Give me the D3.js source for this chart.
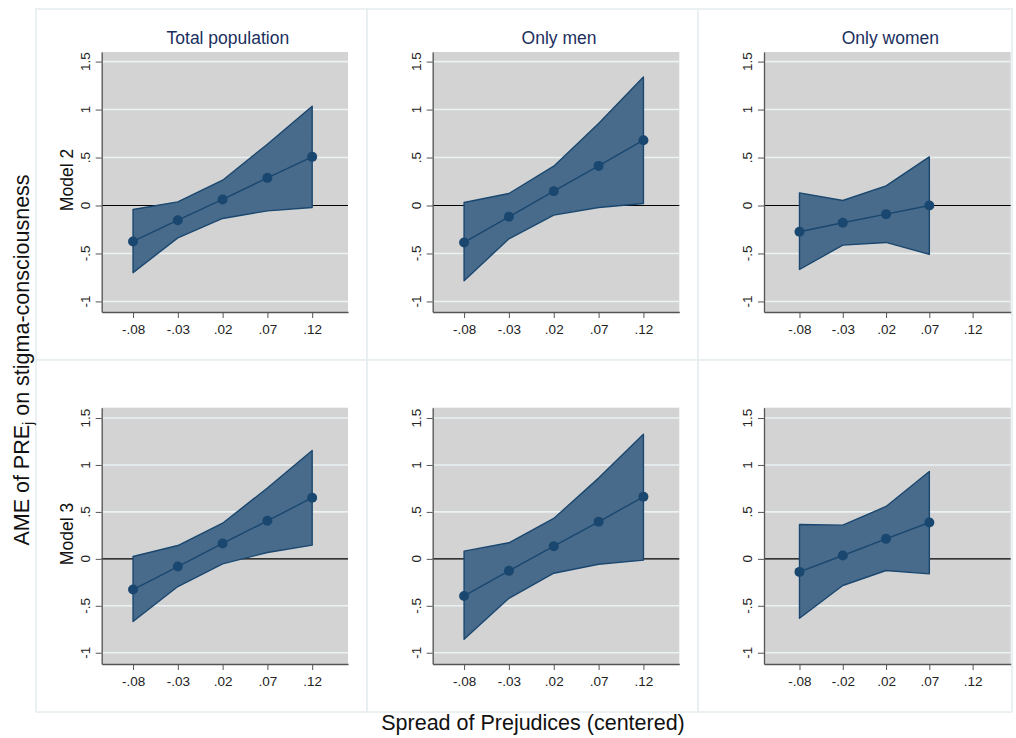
<!DOCTYPE html>
<html>
<head>
<meta charset="utf-8">
<script src="https://cdn.jsdelivr.net/npm/d3@7"></script>
<style>
body { margin: 0; background: #ffffff; }
svg { display: block; }
</style>
</head>
<body>
<div id="chart"><svg id="svg1" width="1016" height="738"></svg></div>
<script>
// tick labels per column (women model 3 has -.02 instead of -.03)
var xTickLabelsM2 = ["-.08", "-.03", ".02", ".07", ".12"];
var xTickLabelsM3W = ["-.08", "-.02", ".02", ".07", ".12"];
var yTickVals = [-1, -0.5, 0, 0.5, 1, 1.5];
var yTickLabels = ["-1", "-.5", "0", ".5", "1", "1.5"];

var colTitles = ["Total population", "Only men", "Only women"];
var rowTitles = ["Model 2", "Model 3"];

// Model 2
var m2TotalAme = [-0.375, -0.153, 0.063, 0.288, 0.507];
var m2TotalUp  = [-0.042, 0.038, 0.264, 0.639, 1.035];
var m2TotalLo  = [-0.700, -0.337, -0.135, -0.056, -0.021];

var m2MenAme = [-0.385, -0.118, 0.149, 0.413, 0.681];
var m2MenUp  = [0.031, 0.125, 0.410, 0.854, 1.340];
var m2MenLo  = [-0.785, -0.347, -0.100, -0.021, 0.021];

var m2WomenAme = [-0.274, -0.180, -0.090, 0.000];
var m2WomenUp  = [0.132, 0.052, 0.205, 0.507];
var m2WomenLo  = [-0.667, -0.413, -0.385, -0.510];

// Model 3
var m3TotalAme = [-0.327, -0.082, 0.164, 0.405, 0.651];
var m3TotalUp  = [0.025, 0.142, 0.380, 0.754, 1.155];
var m3TotalLo  = [-0.668, -0.295, -0.053, 0.068, 0.146];

var m3MenAme = [-0.395, -0.128, 0.135, 0.395, 0.661];
var m3MenUp  = [0.082, 0.171, 0.430, 0.860, 1.326];
var m3MenLo  = [-0.857, -0.420, -0.153, -0.057, -0.014];

var m3WomenAme = [-0.139, 0.036, 0.213, 0.387];
var m3WomenUp  = [0.366, 0.359, 0.558, 0.931];
var m3WomenLo  = [-0.633, -0.284, -0.124, -0.160];

var panels = [
    { row: 0, col: 0, ticks: xTickLabelsM2, ame: m2TotalAme, up: m2TotalUp, lo: m2TotalLo },
    { row: 0, col: 1, ticks: xTickLabelsM2, ame: m2MenAme, up: m2MenUp, lo: m2MenLo },
    { row: 0, col: 2, ticks: xTickLabelsM2, ame: m2WomenAme, up: m2WomenUp, lo: m2WomenLo },
    { row: 1, col: 0, ticks: xTickLabelsM2, ame: m3TotalAme, up: m3TotalUp, lo: m3TotalLo },
    { row: 1, col: 1, ticks: xTickLabelsM2, ame: m3MenAme, up: m3MenUp, lo: m3MenLo },
    { row: 1, col: 2, ticks: xTickLabelsM3W, ame: m3WomenAme, up: m3WomenUp, lo: m3WomenLo }
];

// layout
var BOX_X = [36, 367, 698, 1012];
var BOX_Y = [9, 360, 712];
var PLOT_L = [101.7, 432.7, 764];
var PLOT_R = [348, 679.3, 1010.7];
var PLOT_T = [52, 407.7];
var PLOT_B = [312, 664];
var X_DOM = [[0.3, 5.8], [0.3, 5.8], [0.18, 5.88]];
var Y_DOM = [[-1.11, 1.6], [-1.12, 1.61]];

var FONT = "'Liberation Sans', Arial, sans-serif";
var PLOT_BG = "#d3d3d3";
var GRID_COL = "#eaf2f3";
var NAVY = "#1a476f";
var BAND_COL = "#486b8b";
var AXIS_COL = "#555555";

var svg1 = d3.select("#svg1");

// panel frames
for (var r = 0; r < 2; r++) {
    for (var c = 0; c < 3; c++) {
        svg1.append("rect")
            .attr("x", BOX_X[c])
            .attr("y", BOX_Y[r])
            .attr("width", BOX_X[c + 1] - BOX_X[c])
            .attr("height", BOX_Y[r + 1] - BOX_Y[r])
            .attr("fill", "#ffffff")
            .attr("stroke", "#e6eef0")
            .attr("stroke-width", 1.6);
    }
}

panels.forEach(function(p) { draw_panel(p); });

function draw_panel(p) {
    var scaleX = d3.scaleLinear()
        .domain(X_DOM[p.col])
        .range([PLOT_L[p.col], PLOT_R[p.col]]);
    var scaleY = d3.scaleLinear()
        .domain(Y_DOM[p.row])
        .range([PLOT_B[p.row], PLOT_T[p.row]]);

    var g = svg1.append("g");

    g.append("rect")
        .attr("x", PLOT_L[p.col])
        .attr("y", PLOT_T[p.row])
        .attr("width", PLOT_R[p.col] - PLOT_L[p.col])
        .attr("height", PLOT_B[p.row] - PLOT_T[p.row])
        .attr("fill", PLOT_BG);

    // gridlines
    g.selectAll(".grid")
        .data(yTickVals.filter(function(v) { return v != 0; }))
        .enter()
        .append("line")
        .attr("x1", PLOT_L[p.col])
        .attr("x2", PLOT_R[p.col])
        .attr("y1", function(d) { return scaleY(d); })
        .attr("y2", function(d) { return scaleY(d); })
        .attr("stroke", GRID_COL)
        .attr("stroke-width", 1.6);

    var idx = p.ame.map(function(d, i) { return i + 1; });

    var area = d3.area()
        .x(function(i) { return scaleX(i); })
        .y0(function(i) { return scaleY(p.lo[i - 1]); })
        .y1(function(i) { return scaleY(p.up[i - 1]); });

    // zero line sits below the band
    g.append("line")
        .attr("x1", PLOT_L[p.col])
        .attr("x2", PLOT_R[p.col])
        .attr("y1", scaleY(0))
        .attr("y2", scaleY(0))
        .attr("stroke", "#000000")
        .attr("stroke-width", 1.2);

    g.append("path")
        .datum(idx)
        .attr("d", area)
        .attr("fill", BAND_COL)
        .attr("stroke", NAVY)
        .attr("stroke-width", 1.4)
        .attr("stroke-linejoin", "round");

    var line = d3.line()
        .x(function(i) { return scaleX(i); })
        .y(function(i) { return scaleY(p.ame[i - 1]); });

    g.append("path")
        .datum(idx)
        .attr("d", line)
        .attr("fill", "none")
        .attr("stroke", NAVY)
        .attr("stroke-width", 1.4);

    g.selectAll(".pt")
        .data(idx)
        .enter()
        .append("circle")
        .attr("cx", function(i) { return scaleX(i); })
        .attr("cy", function(i) { return scaleY(p.ame[i - 1]); })
        .attr("r", 5)
        .attr("fill", NAVY);

    // y axis
    var yAxis = d3.axisLeft(scaleY)
        .tickValues(yTickVals)
        .tickSize(6)
        .tickSizeOuter(0)
        .tickFormat(function(d, i) { return yTickLabels[i]; });

    var ya = g.append("g")
        .attr("transform", "translate(" + PLOT_L[p.col] + ",0)")
        .style("color", AXIS_COL)
        .call(yAxis);
    ya.select(".domain").attr("stroke-width", 1.3);
    ya.selectAll("text").remove();

    g.selectAll(".ylab")
        .data(yTickVals)
        .enter()
        .append("text")
        .attr("transform", function(d) {
            return "translate(" + (PLOT_L[p.col] - 16.5) + "," + scaleY(d) + ") rotate(-90)";
        })
        .attr("text-anchor", "middle")
        .attr("dominant-baseline", "central")
        .style("font-family", FONT)
        .style("font-size", "13.5px")
        .style("fill", "#222222")
        .text(function(d, i) { return yTickLabels[i]; });

    // x axis
    var xAxis = d3.axisBottom(scaleX)
        .tickValues([1, 2, 3, 4, 5])
        .tickSize(6)
        .tickSizeOuter(0)
        .tickPadding(6)
        .tickFormat(function(d, i) { return p.ticks[i]; });

    var xa = g.append("g")
        .attr("transform", "translate(0," + PLOT_B[p.row] + ")")
        .style("color", AXIS_COL)
        .call(xAxis);
    xa.select(".domain").attr("stroke-width", 1.3);
    xa.selectAll("text")
        .style("font-family", FONT)
        .style("font-size", "13.5px")
        .style("fill", "#222222");

    if (p.row == 0) {
        svg1.append("text")
            .attr("x", (PLOT_L[p.col] + PLOT_R[p.col]) / 2 + 3)
            .attr("y", 44)
            .attr("text-anchor", "middle")
            .style("font-family", FONT)
            .style("font-size", "17.5px")
            .style("fill", "#1c2f5e")
            .text(colTitles[p.col]);
    }
    if (p.col == 0) {
        svg1.append("text")
            .attr("transform", "translate(72.5," + (p.row == 0 ? 180 : 534) + ") rotate(-90)")
            .attr("text-anchor", "middle")
            .style("font-family", FONT)
            .style("font-size", "17.5px")
            .style("fill", "#111111")
            .text(rowTitles[p.row]);
    }
}

// overall axis titles
var yt = svg1.append("text")
    .attr("transform", "translate(28.5,360) rotate(-90)")
    .attr("text-anchor", "middle")
    .style("font-family", FONT)
    .style("font-size", "21.5px")
    .style("fill", "#111111");
yt.append("tspan").text("AME of PRE");
yt.append("tspan").attr("dy", 4).style("font-size", "14px").text("j");
yt.append("tspan").attr("dy", -4).text(" on stigma-consciousness");

svg1.append("text")
    .attr("x", 533)
    .attr("y", 730)
    .attr("text-anchor", "middle")
    .style("font-family", FONT)
    .style("font-size", "21.5px")
    .style("fill", "#111111")
    .text("Spread of Prejudices (centered)");
</script>
</body>
</html>
